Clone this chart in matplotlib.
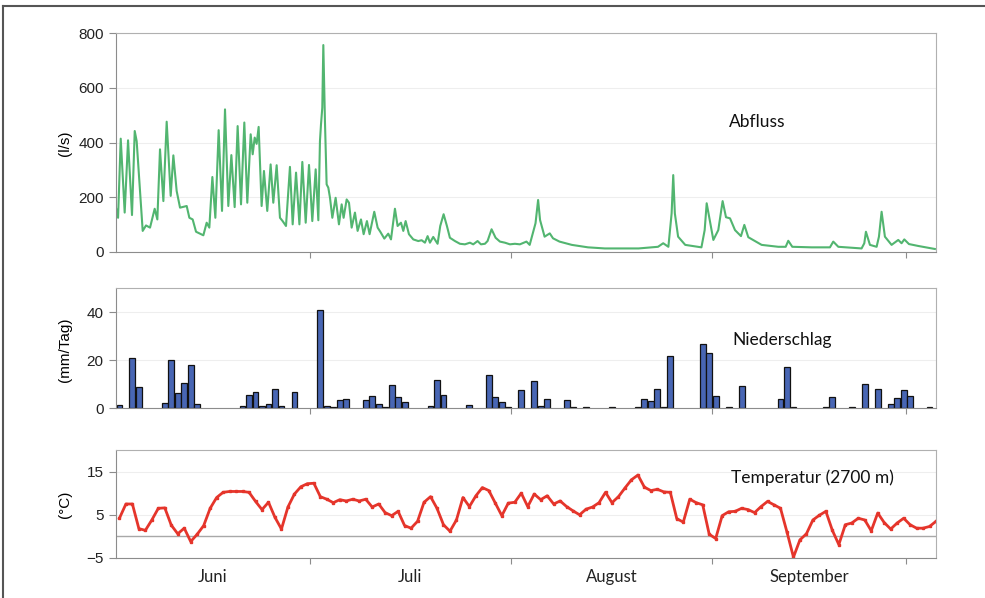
import numpy as np
import matplotlib
matplotlib.use('Agg')
import matplotlib.pyplot as plt
from matplotlib.lines import Line2D

# Abfluss (l/s), read as (day since 1 June, value) at the turning points of the curve
q_day = [0.0, 0.39, 0.80, 1.41, 1.93, 2.54, 2.96, 3.26, 4.19, 4.70,
         5.32, 6.04, 6.45, 6.86, 7.38, 7.89, 8.51, 8.92, 9.43, 9.95,
         10.98, 11.39, 11.90, 12.42, 13.03, 13.55, 14.06, 14.47, 14.94, 15.40,
         15.91, 16.43, 16.89, 17.40, 17.87, 18.38, 18.84, 19.36, 19.87, 20.33,
         20.85, 21.16, 21.47, 21.77, 22.08, 22.54, 22.90, 23.41, 23.93, 24.34,
         24.86, 25.37, 25.78, 26.30, 26.91, 27.33, 27.85, 28.37, 28.82, 29.34,
         29.85, 30.36, 30.88, 31.29, 31.54, 31.70, 31.90, 32.06, 32.31, 32.57,
         32.83, 33.09, 33.45, 33.96, 34.47, 34.89, 35.19, 35.66, 36.02, 36.43,
         36.94, 37.35, 37.87, 38.28, 38.79, 39.20, 39.92, 40.44, 40.85, 41.47,
         42.08, 42.50, 43.11, 43.52, 44.04, 44.40, 44.76, 45.27, 45.94, 46.71,
         47.23, 47.74, 48.15, 48.51, 49.02, 49.69, 50.10, 50.62, 51.13, 51.59,
         52.37, 53.14, 53.91, 54.68, 55.19, 55.86, 56.38, 56.99, 57.40, 58.02,
         58.64, 59.31, 60.08, 60.85, 61.62, 62.39,
         63.4, 63.9, 64.8, 65.2, 65.5, 66.2, 67.0, 67.5, 68.5, 70.4,
         72.9, 75.5, 80.7, 83.7, 84.5, 85.3, 85.8, 86.05, 86.3, 86.8,
         87.9, 90.4, 90.9,
         91.21, 92.24, 93.0, 93.67, 94.19, 94.81, 95.58, 96.5, 97.02, 97.63,
         99.69, 102.26, 103.4, 103.8, 104.42, 107.4, 110.23, 110.74, 111.52, 115.11,
         115.53, 115.78, 116.4, 117.43, 117.79, 118.2, 118.71, 119.74, 120.77, 121.28,
         121.7, 122.42, 123.86, 126.42]
q_val = [170, 125, 414, 144, 408, 135, 442, 405, 77, 97,
         89, 158, 119, 375, 186, 476, 205, 353, 223, 162,
         168, 125, 119, 74, 67, 61, 107, 89, 274, 125,
         445, 150, 521, 168, 354, 164, 460, 174, 473, 180,
         430, 357, 418, 395, 457, 168, 296, 150, 320, 180,
         317, 125, 113, 95, 311, 101, 290, 101, 329, 107,
         318, 113, 302, 116, 405, 466, 527, 756, 479, 247,
         235, 198, 125, 198, 101, 174, 125, 192, 180, 89,
         144, 77, 119, 65, 113, 65, 147, 89, 74, 49,
         67, 46, 158, 95, 107, 77, 113, 65, 46, 40,
         43, 34, 58, 34, 55, 30, 95, 138, 95, 52,
         40, 30, 28, 34, 28, 40, 28, 30, 40, 83,
         52, 38, 34, 28, 30, 28,
         38, 26, 105, 190, 117, 56, 68, 50, 38, 26,
         17, 13, 13, 19, 32, 19, 141, 281, 141, 56,
         26, 17, 80,
         178, 44, 80, 186, 127, 123, 80, 58, 99, 54,
         26, 19, 19, 41, 19, 17, 17, 38, 19, 13,
         32, 74, 26, 19, 56, 147, 56, 26, 44, 32,
         46, 29, 22, 11]

# Niederschlag (mm/Tag), one value per day from 1 June
niederschlag = [1.4, 0, 20.8, 8.8, 0, 0, 0, 2.1, 20.1, 6.3,
                10.6, 18.0, 1.5, 0, 0, 0, 0, 0, 0, 1.0,
                5.3, 6.8, 0.8, 1.5, 7.9, 0.7, 0, 6.5, 0, 0,
                0, 40.7, 0.7, 0.3, 3.5, 3.7, 0, 0, 3.5, 4.9,
                1.8, 0.3, 9.6, 4.6, 2.4, 0, 0, 0, 0.7, 11.5,
                5.4, 0, 0, 0, 1.4, 0, 0, 13.8, 4.6, 2.4,
                0.5, 0, 7.4, 0, 11.1, 0.7, 3.6, 0, 0, 3.2,
                0.5, 0, 0.4, 0, 0, 0, 0.4, 0, 0, 0,
                0.4, 3.6, 2.8, 8.0, 0.5, 21.5, 0, 0, 0, 0,
                26.5, 22.9, 5.0, 0, 0.5, 0, 9.3, 0, 0, 0,
                0, 0, 3.6, 17.1, 0.5, 0, 0, 0, 0, 0.4,
                4.6, 0, 0, 0.4, 0, 10.0, 0, 7.9, 0, 1.5,
                4.3, 7.6, 4.9, 0, 0, 0.4, 0]

# Temperatur (°C) at 2700 m, one value per day from 1 June
temperatur = [4.2, 7.5, 7.5, 1.8, 1.4, 3.8, 6.5, 6.6, 2.6, 0.6,
              1.9, -1.2, 0.5, 2.5, 6.5, 9.0, 10.2, 10.4, 10.4, 10.4,
              10.2, 8.1, 6.2, 7.9, 4.4, 1.7, 6.8, 9.8, 11.5, 12.2,
              12.3, 9.2, 8.6, 7.8, 8.5, 8.2, 8.6, 8.2, 8.6, 6.8,
              7.5, 5.5, 4.8, 5.8, 2.5, 1.9, 3.5, 7.9, 9.2, 6.5,
              2.7, 1.2, 3.8, 9.0, 6.9, 9.4, 11.3, 10.6, 7.7, 4.8,
              7.7, 7.9, 10.0, 6.9, 9.8, 8.5, 9.4, 7.5, 8.2, 6.9,
              5.9, 5.0, 6.3, 6.8, 7.8, 10.2, 7.8, 9.2, 11.2, 13.1,
              14.2, 11.4, 10.6, 10.9, 10.3, 10.2, 4.1, 3.3, 8.6, 7.8,
              7.3, 0.5, -0.5, 4.8, 5.7, 5.8, 6.5, 6.2, 5.5, 6.9,
              8.1, 7.3, 6.5, 1.0, -4.8, -0.8, 0.6, 3.8, 4.9, 5.8,
              1.4, -1.9, 2.7, 3.1, 4.2, 3.8, 1.3, 5.4, 3.2, 1.7,
              3.1, 4.2, 2.7, 1.9, 1.9, 2.3, 3.5]

monate = ['Juni', 'Juli', 'August', 'September']
monat_tage = [30, 31, 31, 30]

day = np.arange(len(temperatur)) + 0.6
p = np.array(niederschlag)
month_start = np.concatenate([[0], np.cumsum(monat_tage)])
month_mid = month_start[:-1] + np.array(monat_tage) / 2
x_end = 126.6

plt.rcParams['font.family'] = ['Liberation Sans', 'DejaVu Sans']
label_font = 'Lato'

fig = plt.figure(figsize=(9.85, 5.98), dpi=100)
ax1 = fig.add_axes([0.1173, 0.5786, 0.8330, 0.3662])
ax2 = fig.add_axes([0.1173, 0.3177, 0.8330, 0.2007])
ax3 = fig.add_axes([0.1173, 0.0669, 0.8330, 0.1806])

ax1.plot(q_day, q_val, color='#52b570', lw=1.5)
ax1.set_ylim(0, 800)
ax1.set_yticks([0, 200, 400, 600, 800])

ax2.bar(day[p > 0], p[p > 0], width=0.9, color='#4866b4',
        edgecolor='#111111', linewidth=0.9)
ax2.set_ylim(0, 50)
ax2.set_yticks([0, 20, 40])

ax3.plot(day, temperatur, color='#e5352b', lw=2, marker='s', ms=1.8)
ax3.axhline(0, color='#a8a8a8', lw=1, zorder=0)
ax3.set_ylim(-5, 20)
ax3.set_yticks([-5, 5, 15])

for ax in (ax1, ax2, ax3):
    ax.set_xlim(0, x_end)
    ax.set_xticks(month_start[1:])
    ax.set_xticklabels([])
    ax.yaxis.grid(True, color='#eeeeee', lw=0.8)
    ax.set_axisbelow(True)
    for side in ('left', 'bottom'):
        ax.spines[side].set_color('#8c8c8c')
    for side in ('top', 'right'):
        ax.spines[side].set_color('#b0b0b0')
    ax.tick_params(axis='both', direction='out', length=5, color='#8c8c8c',
                   labelsize=11, labelcolor='#222222')
    ax.tick_params(axis='x', length=4)

ax3.set_xticks(month_mid, minor=True)
ax3.set_xticklabels(monate, minor=True, fontsize=12, family=label_font, color='#222222')
ax3.tick_params(axis='x', which='minor', length=0, pad=8)

ax1.text(0.782, 0.594, 'Abfluss', transform=ax1.transAxes, ha='center', va='center',
         fontsize=12.5, family=label_font, color='#111111')
ax2.text(0.812, 0.567, 'Niederschlag', transform=ax2.transAxes, ha='center', va='center',
         fontsize=12.5, family=label_font, color='#111111')
ax3.text(0.849, 0.741, 'Temperatur (2700 m)', transform=ax3.transAxes, ha='center',
         va='center', fontsize=12.5, family=label_font, color='#111111')

fig.text(0.066, 0.761, '(l/s)', rotation=90, ha='center', va='center', fontsize=11)
fig.text(0.066, 0.415, '(mm/Tag)', rotation=90, ha='center', va='center', fontsize=11)
fig.text(0.066, 0.156, '(°C)', rotation=90, ha='center', va='center', fontsize=11)

# outer frame of the figure (top and left edges visible)
fig.add_artist(Line2D([3 / 985, 3 / 985], [0, 1 - 6 / 598], transform=fig.transFigure,
                      color='#555555', lw=1.5))
fig.add_artist(Line2D([3 / 985, 1], [1 - 6 / 598, 1 - 6 / 598], transform=fig.transFigure,
                      color='#555555', lw=1.5))

plt.savefig('out.png', dpi=100)
